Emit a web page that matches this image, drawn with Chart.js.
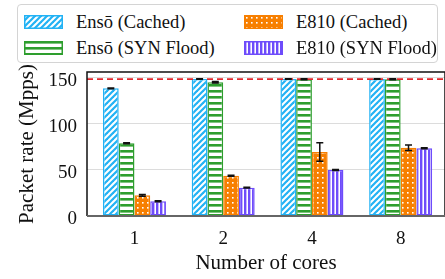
<!DOCTYPE html>
<html>
<head>
<meta charset="utf-8">
<script src="https://cdn.jsdelivr.net/npm/chart.js@4/dist/chart.umd.min.js"></script>
<style>
  html, body { margin:0; padding:0; background:#fff; overflow:hidden; }
  #wrap { position:relative; width:445px; height:279px; }
  #legend {
    position:absolute; left:17px; top:4px; width:419px; height:57px;
    border:1px solid #d4d4d4; border-radius:4px; background:#fff;
    font: 18.5px "Liberation Serif", serif; color:#111;
  }
  .item { position:absolute; height:20px; line-height:20px; white-space:nowrap; }
  .item canvas { position:absolute; left:0; top:3px; }
  .item span { position:absolute; left:52px; top:0; }
</style>
</head>
<body>
<div id="wrap">
  <canvas id="chart" width="445" height="279"></canvas>
  <div id="legend"></div>
</div>
<script>
// ── data ───────────────────────────────────────────
const cores = ['1', '2', '4', '8'];
const seriesNames = ['Ensō (Cached)', 'Ensō (SYN Flood)', 'E810 (Cached)', 'E810 (SYN Flood)'];
const ensoCached = [138.8, 148.8, 148.8, 148.8];
const ensoSyn    = [79.0, 145.3, 148.6, 148.6];
const e810Cached = [22.5, 43.8, 69.6, 74.2];
const e810Syn    = [16.0, 30.8, 50.0, 73.6];
const ensoCachedErr = [0.4, 0.3, 0.3, 0.3];
const ensoSynErr    = [0.6, 0.8, 0.5, 0.5];
const e810CachedErr = [1.0, 0.6, 10.0, 3.0];
const e810SynErr    = [0.5, 0.5, 0.5, 0.5];
const lineRate = 148.8;
const yTicks = [0, 50, 100, 150];

const BLUE = '#22b2f4', GREEN = '#2e9e2e', ORANGE = '#f77f00', PURPLE = '#6e4cfb';
const FONT = "'Liberation Serif', serif";

// ── hatch patterns ─────────────────────────────────
function makePattern(kind, color) {
  const c = document.createElement('canvas');
  const g = c.getContext('2d');
  if (kind === 'diag') {
    c.width = c.height = 6;
    g.fillStyle = '#fff'; g.fillRect(0, 0, 6, 6);
    g.strokeStyle = color; g.lineWidth = 2.2;
    [[-6, 6, 6, -6], [0, 6, 6, 0], [0, 12, 12, 0]].forEach(([a, b, d, e]) => {
      g.beginPath(); g.moveTo(a, b); g.lineTo(d, e); g.stroke();
    });
  } else if (kind === 'horiz') {
    c.width = 6; c.height = 6;
    g.fillStyle = '#fff'; g.fillRect(0, 0, 6, 6);
    g.fillStyle = color; g.fillRect(0, 0, 6, 2.6);
  } else if (kind === 'dots') {
    c.width = c.height = 5;
    g.fillStyle = color; g.fillRect(0, 0, 5, 5);
    g.fillStyle = '#fff'; g.fillRect(2, 2, 1.6, 1.6);
  } else {
    c.width = 4; c.height = 4;
    g.fillStyle = '#fff'; g.fillRect(0, 0, 4, 4);
    g.fillStyle = color; g.fillRect(0, 0, 2.4, 4);
  }
  return g.createPattern(c, 'repeat');
}

const styles = [
  { kind: 'diag', color: BLUE },
  { kind: 'horiz', color: GREEN },
  { kind: 'dots', color: ORANGE },
  { kind: 'vert', color: PURPLE }
];
const values = [ensoCached, ensoSyn, e810Cached, e810Syn];
const errors = [ensoCachedErr, ensoSynErr, e810CachedErr, e810SynErr];

// ── legend (2 columns, column-major) ───────────────
const legendEl = document.getElementById('legend');
const legendPos = [[6, 7], [6, 33], [226, 7], [226, 33]];
seriesNames.forEach((name, i) => {
  const it = document.createElement('div');
  it.className = 'item';
  it.style.left = legendPos[i][0] + 'px';
  it.style.top = legendPos[i][1] + 'px';
  const sw = document.createElement('canvas');
  sw.width = 39; sw.height = 14;
  const g = sw.getContext('2d');
  g.fillStyle = makePattern(styles[i].kind, styles[i].color);
  g.fillRect(0, 0, 39, 14);
  g.strokeStyle = styles[i].color; g.lineWidth = 1.5;
  g.strokeRect(0.75, 0.75, 37.5, 12.5);
  const tx = document.createElement('span');
  tx.textContent = name;
  it.appendChild(sw); it.appendChild(tx);
  legendEl.appendChild(it);
});

// ── plugins: line rate, error bars, frame ──────────
const extras = {
  id: 'extras',
  afterDatasetsDraw(chart) {
    const { ctx, chartArea: a, scales: { y } } = chart;
    ctx.save();
    // line rate
    const ly = y.getPixelForValue(lineRate);
    ctx.strokeStyle = '#e3262b'; ctx.lineWidth = 1.6; ctx.setLineDash([6, 4]);
    ctx.beginPath(); ctx.moveTo(a.left, ly); ctx.lineTo(a.right, ly); ctx.stroke();
    ctx.setLineDash([]);
    // error bars
    ctx.strokeStyle = '#111'; ctx.lineWidth = 1.5;
    values.forEach((vals, i) => {
      chart.getDatasetMeta(i).data.forEach((bar, j) => {
        const top = y.getPixelForValue(vals[j] + errors[i][j]);
        const bot = y.getPixelForValue(vals[j] - errors[i][j]);
        ctx.beginPath();
        ctx.moveTo(bar.x, top); ctx.lineTo(bar.x, bot);
        ctx.moveTo(bar.x - 3.5, top); ctx.lineTo(bar.x + 3.5, top);
        ctx.moveTo(bar.x - 3.5, bot); ctx.lineTo(bar.x + 3.5, bot);
        ctx.stroke();
      });
    });
    // frame
    ctx.strokeStyle = '#111'; ctx.lineWidth = 1.5;
    ctx.beginPath();
    ctx.moveTo(a.left, a.bottom); ctx.lineTo(a.left, a.top);
    ctx.lineTo(a.right, a.top); ctx.lineTo(a.right, a.bottom);
    ctx.stroke();
    ctx.strokeStyle = '#666'; ctx.lineWidth = 2;
    ctx.beginPath(); ctx.moveTo(a.left, a.bottom); ctx.lineTo(a.right, a.bottom); ctx.stroke();
    ctx.restore();
  }
};

new Chart(document.getElementById('chart'), {
  type: 'bar',
  data: {
    datasets: seriesNames.map((name, i) => ({
      label: name,
      data: values[i].map((v, j) => ({ x: j, y: v })),
      backgroundColor: makePattern(styles[i].kind, styles[i].color),
      borderColor: styles[i].color,
      borderWidth: 1.5,
      borderSkipped: false
    }))
  },
  options: {
    responsive: false,
    animation: false,
    layout: { padding: { top: 72, left: 0, right: 0, bottom: 0 } },
    categoryPercentage: 0.71,
    barPercentage: 1,
    plugins: { legend: { display: false }, tooltip: { enabled: false } },
    scales: {
      x: {
        type: 'linear', min: -0.535, max: 3.5, offset: false,
        afterBuildTicks: s => { s.ticks = cores.map((_, i) => ({ value: i })); },
        afterFit: s => { s.height = 63; },
        grid: { display: false }, border: { display: false },
        ticks: { callback: v => cores[v], color: '#111', padding: 4, font: { family: FONT, size: 19 } },
        title: { display: true, text: 'Number of cores', color: '#111', padding: { top: 0, bottom: 3 }, font: { family: FONT, size: 21 } }
      },
      y: {
        min: 0, max: 156.5,
        afterBuildTicks: s => { s.ticks = yTicks.map(v => ({ value: v })); },
        afterFit: s => { s.width = 87; },
        grid: { color: '#dcdcdc', lineWidth: 1, drawTicks: false },
        border: { display: false },
        ticks: { color: '#111', padding: 10, labelOffset: 3, font: { family: FONT, size: 19 } },
        title: { display: true, text: 'Packet rate (Mpps)', color: '#111', padding: { top: 15, bottom: 0 }, font: { family: FONT, size: 21 } }
      }
    }
  },
  plugins: [extras]
});
</script>
</body>
</html>
